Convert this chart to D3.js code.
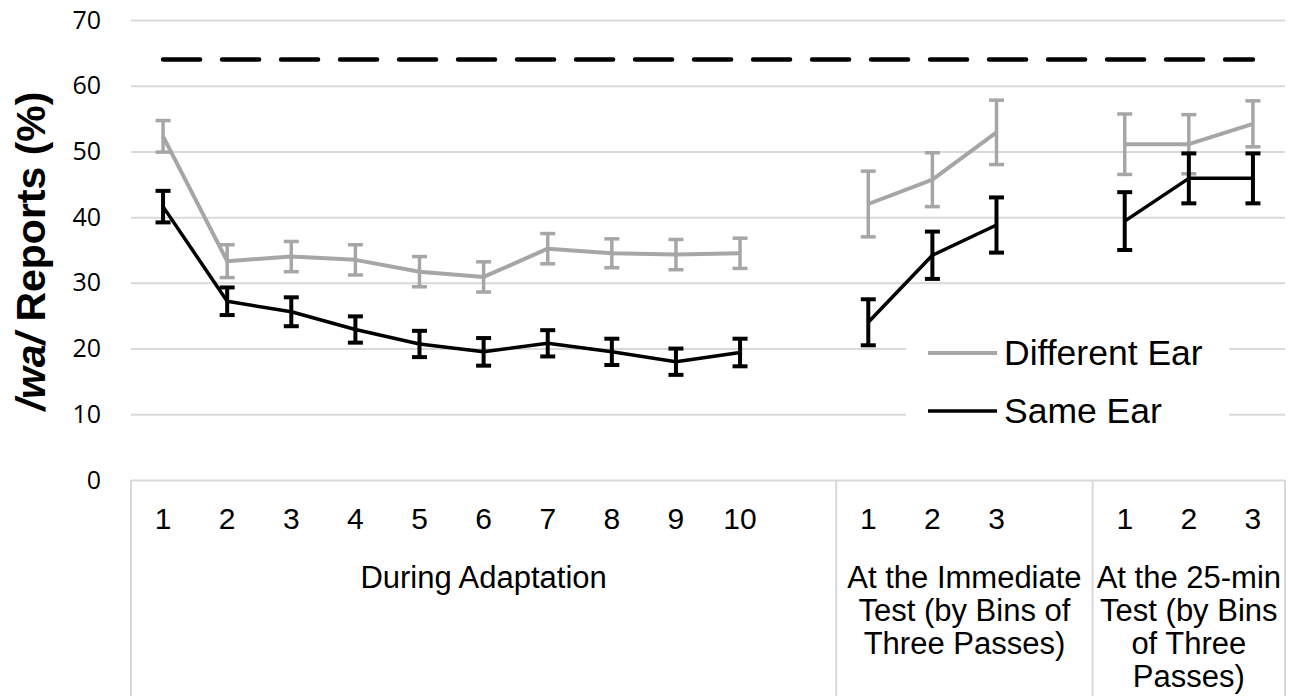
<!DOCTYPE html>
<html>
<head>
<meta charset="utf-8">
<script src="https://cdn.jsdelivr.net/npm/d3@7"></script>
<style>
  body { margin: 0; background: #fff; }
  text { font-family: "Liberation Sans", Arial, sans-serif; fill: #000; }
</style>
</head>
<body>
<script>
// category slots (blank slots separate the three groups)
const tickLabels = ['1', '2', '3', '4', '5', '6', '7', '8', '9', '10', '', '1', '2', '3', '', '1', '2', '3'];
const groupSizes = [11, 4, 3];
const groupLabels = [
  ['During Adaptation'],
  ['At the Immediate', 'Test (by Bins of', 'Three Passes)'],
  ['At the 25-min', 'Test (by Bins', 'of Three', 'Passes)']
];

const differentEar = [52.3, 33.3, 34.0, 33.5, 31.7, 30.9, 35.2, 34.5, 34.3, 34.5, null, 42.0, 45.7, 52.9, null, 51.1, 51.1, 54.2];
const differentErr = [2.4, 2.5, 2.3, 2.3, 2.3, 2.3, 2.3, 2.2, 2.3, 2.3, null, 5.0, 4.1, 4.9, null, 4.6, 4.5, 3.5];
const sameEar = [41.6, 27.2, 25.6, 22.9, 20.7, 19.5, 20.8, 19.5, 18.0, 19.4, null, 24.0, 34.2, 38.8, null, 39.4, 45.9, 45.9];
const sameErr = [2.4, 2.1, 2.2, 2.0, 2.0, 2.1, 2.0, 2.0, 2.0, 2.1, null, 3.5, 3.6, 4.2, null, 4.4, 3.8, 3.8];
const referenceLevel = 64;
const yTicks = [0, 10, 20, 30, 40, 50, 60, 70];

const W = 1291, H = 696;
const plot = { left: 131, right: 1285, top: 20, bottom: 480 };

const svg = d3.select('body').append('svg')
  .attr('width', W)
  .attr('height', H);

const x = d3.scaleBand()
  .domain(d3.range(tickLabels.length))
  .range([plot.left, plot.right])
  .padding(0);
const cx = i => x(i) + x.bandwidth() / 2;

const y = d3.scaleLinear()
  .domain([0, 70])
  .range([plot.bottom, plot.top]);

// gridlines + y labels
const yAxis = svg.append('g')
  .attr('transform', `translate(${plot.left},0)`)
  .call(d3.axisLeft(y).tickValues(yTicks).tickSize(-(plot.right - plot.left)).tickPadding(30));
yAxis.select('.domain').remove();
yAxis.selectAll('line').attr('stroke', '#d9d9d9').attr('stroke-width', 2);
yAxis.selectAll('text')
  .style('font-family', '"Open Sans", sans-serif')
  .style('font-size', '25px')
  .attr('fill', '#000');

// category axis
const xAxis = svg.append('g')
  .attr('transform', `translate(0,${plot.bottom})`)
  .call(d3.axisBottom(x).tickFormat(i => tickLabels[i]).tickSize(0));
xAxis.select('.domain').remove();
xAxis.selectAll('text')
  .attr('y', 49)
  .attr('dy', null)
  .style('font-size', '30px')
  .attr('fill', '#000');

// group separators and group labels
let start = 0;
const bounds = [start];
groupSizes.forEach(n => { start += n; bounds.push(start); });
const edge = i => i < tickLabels.length ? x(i) : x(tickLabels.length - 1) + x.bandwidth();

svg.append('g').selectAll('line')
  .data(bounds)
  .enter().append('line')
  .attr('x1', d => edge(d)).attr('x2', d => edge(d))
  .attr('y1', plot.bottom).attr('y2', H)
  .attr('stroke', '#d9d9d9')
  .attr('stroke-width', 2);

groupLabels.forEach((lines, g) => {
  const mid = (edge(bounds[g]) + edge(bounds[g + 1])) / 2;
  const t = svg.append('text')
    .attr('text-anchor', 'middle')
    .style('font-size', '31px');
  lines.forEach((s, k) => {
    t.append('tspan')
      .attr('x', mid)
      .attr('y', 588 + k * 33)
      .text(s);
  });
});

// reference (dashed) line
const refLine = d3.line()
  .x((d, i) => cx(i))
  .y(d => y(d));
svg.append('path')
  .datum(tickLabels.map(() => referenceLevel))
  .attr('d', refLine)
  .attr('fill', 'none')
  .attr('stroke', '#000')
  .attr('stroke-width', 4.5)
  .attr('stroke-linecap', 'round')
  .attr('stroke-dasharray', '37,22');

function drawSeries(values, errors, color, lineW, barW) {
  const line = d3.line()
    .defined(d => d != null)
    .x((d, i) => cx(i))
    .y(d => y(d));

  const g = svg.append('g');
  const pts = values.map((v, i) => ({ i, v, e: errors[i] })).filter(d => d.v != null);
  const capW = 7.5;

  g.selectAll('.stem').data(pts).enter().append('line')
    .attr('x1', d => cx(d.i)).attr('x2', d => cx(d.i))
    .attr('y1', d => y(d.v + d.e)).attr('y2', d => y(d.v - d.e))
    .attr('stroke', color).attr('stroke-width', barW);

  ['top', 'bot'].forEach(side => {
    g.selectAll('.cap-' + side).data(pts).enter().append('line')
      .attr('x1', d => cx(d.i) - capW).attr('x2', d => cx(d.i) + capW)
      .attr('y1', d => y(side === 'top' ? d.v + d.e : d.v - d.e))
      .attr('y2', d => y(side === 'top' ? d.v + d.e : d.v - d.e))
      .attr('stroke', color).attr('stroke-width', barW);
  });

  g.append('path')
    .datum(values)
    .attr('d', line)
    .attr('fill', 'none')
    .attr('stroke', color)
    .attr('stroke-width', lineW)
    .attr('stroke-linejoin', 'round');
}

drawSeries(differentEar, differentErr, '#a6a6a6', 4, 3.5);
drawSeries(sameEar, sameErr, '#000000', 3.5, 4);

// legend
const legend = svg.append('g');
legend.append('rect')
  .attr('x', 906).attr('y', 330)
  .attr('width', 323).attr('height', 100)
  .attr('fill', '#fff');
const legendItems = [
  { name: 'Different Ear', color: '#a6a6a6', w: 4, ly: 353 },
  { name: 'Same Ear', color: '#000000', w: 3.5, ly: 411 }
];
legendItems.forEach(d => {
  legend.append('line')
    .attr('x1', 928).attr('x2', 997)
    .attr('y1', d.ly).attr('y2', d.ly)
    .attr('stroke', d.color).attr('stroke-width', d.w);
  legend.append('text')
    .attr('x', 1004).attr('y', d.ly + 12)
    .style('font-size', '35.5px')
    .text(d.name);
});

// y title
const title = svg.append('text')
  .attr('transform', 'translate(45,251) rotate(-90)')
  .attr('text-anchor', 'middle')
  .style('font-size', '41px')
  .style('font-weight', 'bold');
title.append('tspan').style('font-style', 'italic').text('/wa/');
title.append('tspan').text(' Reports (%)');
</script>
</body>
</html>
